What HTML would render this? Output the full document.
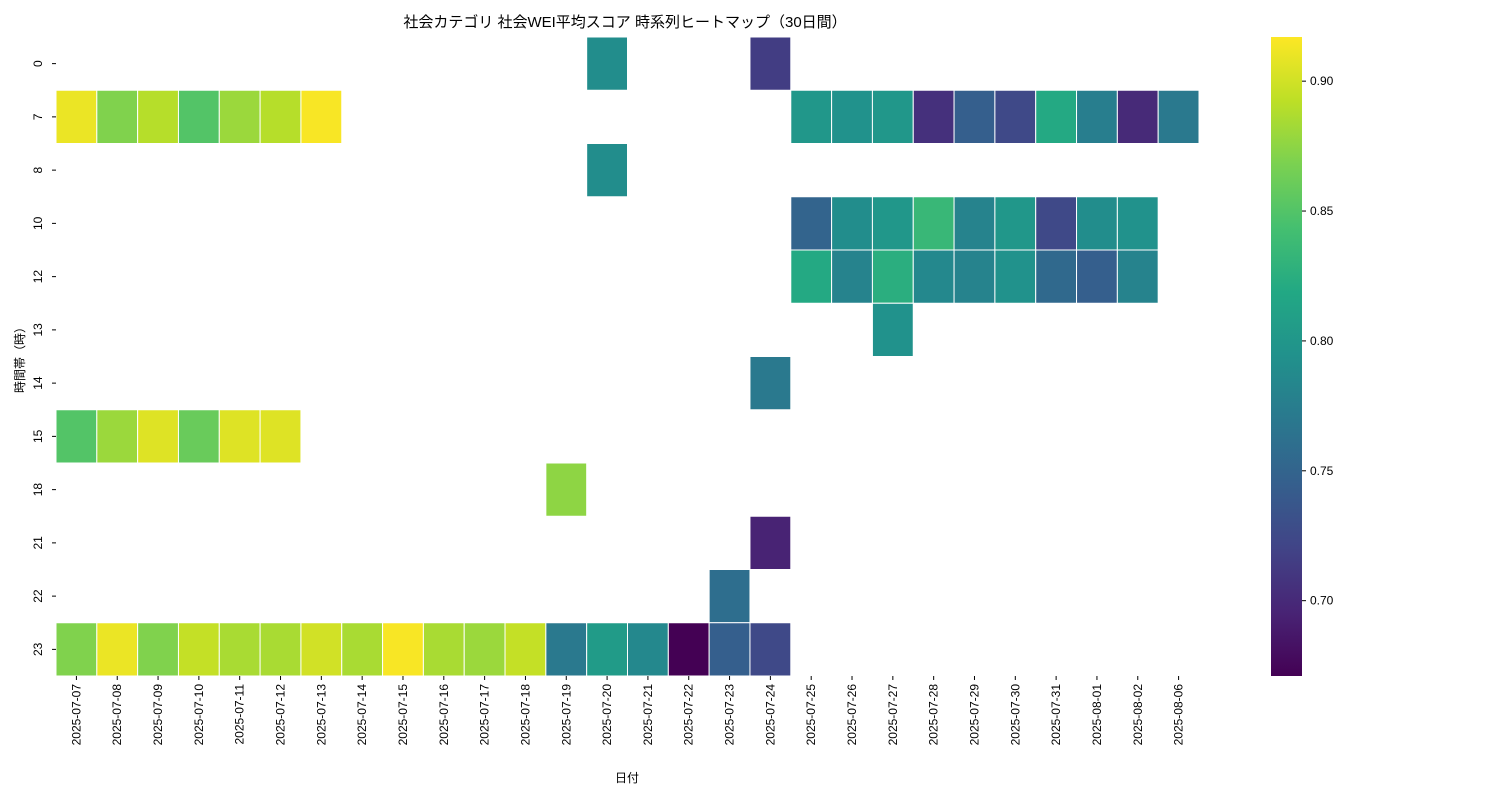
<!DOCTYPE html>
<html><head><meta charset="utf-8"><style>
html,body{margin:0;padding:0;background:#fff;}
svg{display:block;font-family:"Liberation Sans","Noto Sans CJK JP",sans-serif;}
</style></head><body>
<svg id="chart" width="1500" height="800" xmlns="http://www.w3.org/2000/svg">
<text x="625" y="27" text-anchor="middle" font-size="15" fill="#000">社会カテゴリ 社会WEI平均スコア 時系列ヒートマップ（30日間）</text>
<text transform="translate(24,357) rotate(-90)" text-anchor="middle" font-size="12">時間帯（時）</text>
<text x="627" y="782" text-anchor="middle" font-size="12">日付</text>
<g id="cells"></g>
<g id="xt"></g>
<g id="yt"></g>
<defs><linearGradient id="cbg" x1="0" y1="1" x2="0" y2="0"></linearGradient></defs>
<rect x="1271" y="37" width="31" height="639" fill="url(#cbg)"/>
<g id="cbt"></g>
</svg>
<script>
const dates=["2025-07-07","2025-07-08","2025-07-09","2025-07-10","2025-07-11","2025-07-12","2025-07-13","2025-07-14","2025-07-15","2025-07-16","2025-07-17","2025-07-18","2025-07-19","2025-07-20","2025-07-21","2025-07-22","2025-07-23","2025-07-24","2025-07-25","2025-07-26","2025-07-27","2025-07-28","2025-07-29","2025-07-30","2025-07-31","2025-08-01","2025-08-02","2025-08-06"];
const hours=["0","7","8","10","12","13","14","15","18","21","22","23"];
const row0={13:0.79,17:0.715};
const row7={0:0.91,1:0.87,2:0.89,3:0.85,4:0.88,5:0.89,6:0.915,18:0.80,19:0.795,20:0.80,21:0.705,22:0.745,23:0.725,24:0.82,25:0.775,26:0.70,27:0.77};
const row8={13:0.79};
const row10={18:0.75,19:0.79,20:0.80,21:0.835,22:0.78,23:0.80,24:0.725,25:0.79,26:0.795};
const row12={18:0.82,19:0.78,20:0.825,21:0.785,22:0.78,23:0.795,24:0.755,25:0.745,26:0.78};
const row13={20:0.795};
const row14={17:0.77};
const row15={0:0.85,1:0.88,2:0.905,3:0.86,4:0.905,5:0.905};
const row18={12:0.875};
const row21={17:0.695};
const row22={16:0.76};
const row23={0:0.87,1:0.91,2:0.87,3:0.895,4:0.885,5:0.885,6:0.90,7:0.885,8:0.915,9:0.885,10:0.88,11:0.895,12:0.77,13:0.805,14:0.785,15:0.671,16:0.745,17:0.725};
const rows=[row0,row7,row8,row10,row12,row13,row14,row15,row18,row21,row22,row23];
const cbTicks=[0.70,0.75,0.80,0.85,0.90];
const vmin=0.671,vmax=0.917;
const X0=56,X1=1199,Y0=37,Y1=676;
const cw=(X1-X0)/dates.length,ch=(Y1-Y0)/hours.length;
const vir=["#440154","#482475","#414487","#355f8d","#2a788e","#21918c","#22a884","#44bf70","#7ad151","#bddf26","#fde725"];
function hex(h){return [1,3,5].map(i=>parseInt(h.substr(i,2),16));}
function color(v){let t=Math.max(0,Math.min(1,(v-vmin)/(vmax-vmin)))*(vir.length-1);let i=Math.min(Math.floor(t),vir.length-2),f=t-i;let a=hex(vir[i]),b=hex(vir[i+1]);return "rgb("+a.map((x,k)=>Math.round(x+(b[k]-x)*f)).join(",")+")";}
const NS="http://www.w3.org/2000/svg";
function xs(i){return X0+i*cw;} function ys(j){return Y0+j*ch;}
function cy(v){return Y1-(v-vmin)/(vmax-vmin)*(Y1-Y0);}
const cells=document.getElementById("cells");
rows.forEach((r,j)=>{for(const k in r){const e=document.createElementNS(NS,"rect");


e.setAttribute("x",xs(+k));e.setAttribute("y",ys(j));e.setAttribute("width",cw);e.setAttribute("height",ch);
e.setAttribute("fill",color(r[k]));e.setAttribute("stroke","#fff");e.setAttribute("stroke-width","1");cells.appendChild(e);}});
const xt=document.getElementById("xt");
dates.forEach((d,i)=>{const x=xs(i)+cw/2;
const l=document.createElementNS(NS,"line");


l.setAttribute("x1",x);l.setAttribute("x2",x);l.setAttribute("y1",Y1);l.setAttribute("y2",Y1+4);l.setAttribute("stroke","#000");xt.appendChild(l);
const t=document.createElementNS(NS,"text");


t.setAttribute("transform","translate("+(x+4)+","+(Y1+8)+") rotate(-90)");t.setAttribute("text-anchor","end");t.setAttribute("font-size","12");t.textContent=d;xt.appendChild(t);});
const yt=document.getElementById("yt");
hours.forEach((h,j)=>{const y=ys(j)+ch/2;
const l=document.createElementNS(NS,"line");


l.setAttribute("x1",X0-4);l.setAttribute("x2",X0);l.setAttribute("y1",y);l.setAttribute("y2",y);l.setAttribute("stroke","#000");yt.appendChild(l);
const t=document.createElementNS(NS,"text");


t.setAttribute("transform","translate(42,"+y+") rotate(-90)");t.setAttribute("text-anchor","middle");t.setAttribute("font-size","12");t.textContent=h;yt.appendChild(t);});
const g=document.getElementById("cbg");
vir.forEach((c,i)=>{const s=document.createElementNS(NS,"stop");s.setAttribute("offset",i/(vir.length-1));s.setAttribute("stop-color",c);g.appendChild(s);});
const cbt=document.getElementById("cbt");
cbTicks.forEach(v=>{const y=cy(v);
const l=document.createElementNS(NS,"line");


l.setAttribute("x1",1302);l.setAttribute("x2",1306);l.setAttribute("y1",y);l.setAttribute("y2",y);l.setAttribute("stroke","#000");cbt.appendChild(l);
const t=document.createElementNS(NS,"text");


t.setAttribute("x",1310);t.setAttribute("y",y+4);t.setAttribute("font-size","12");t.textContent=v.toFixed(2);cbt.appendChild(t);});
</script>
</body></html>
